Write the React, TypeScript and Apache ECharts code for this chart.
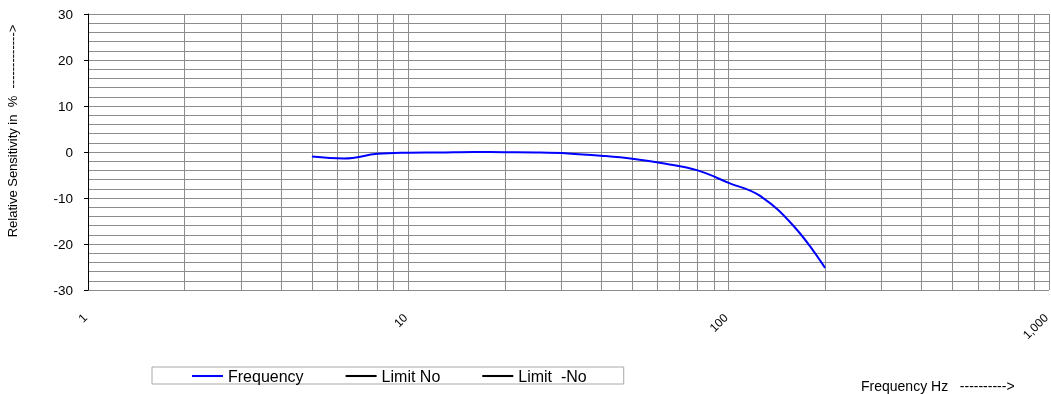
import React, { useEffect, useRef } from "react";
import * as echarts from "echarts";

const freqHz = [5, 6.3, 8, 10, 12.5, 16, 20, 25, 31.5, 40, 50, 63, 80, 100, 125, 160, 200];
const relSens = [-1.0, -1.4, -0.4, -0.15, -0.1, 0, -0.05, -0.1, -0.3, -0.8, -1.45, -2.5, -4.0, -6.7, -9.5, -16.2, -25.2];
const limitNo: number[][] = [];
const limitMinusNo: number[][] = [];
const minorGridFreqs = [2, 3, 4, 5, 6, 7, 8, 9, 20, 30, 40, 50, 60, 70, 80, 90, 200, 300, 400, 500, 600, 700, 800, 900];
const legendNames = ["Frequency", "Limit No", "Limit  -No"];
const yAxisTitle = "Relative Sensitivity in  %  ------------->";
const xAxisTitle = "Frequency Hz   ---------->";

const FONT = "'Liberation Sans', Arial, sans-serif";
const GRID = "#8c8c8c";

export default function App() {
  const ref = useRef<HTMLDivElement>(null);
  useEffect(() => {
    if (!ref.current) return;
    const chart = echarts.init(ref.current, null, { renderer: "svg" });
    chart.setOption({
      animation: false,
      textStyle: { fontFamily: FONT },
      grid: { left: 88, top: 14, right: 2, bottom: 104, containLabel: false, outerBoundsMode: "none" },
      legend: {
        left: 152,
        top: 367,
        padding: [1, 37, 0, 40],
        itemGap: 42,
        itemWidth: 31,
        itemHeight: 12,
        borderColor: "#a8a8a8",
        borderWidth: 1,
        icon: "path://M0,5 L30,5 L30,7 L0,7 Z",
        textStyle: { fontFamily: FONT, fontSize: 16, color: "#000" },
        data: legendNames,
      },
      xAxis: {
        type: "log",
        logBase: 10,
        min: 1,
        max: 1000,
        axisLine: { show: false },
        axisTick: { show: false },
        splitLine: { show: true, lineStyle: { color: GRID, width: 1 } },
        axisLabel: {
          rotate: 45,
          margin: 23,
          padding: [0, 4, 0, 0],
          fontSize: 12,
          fontFamily: FONT,
          color: "#000",
          formatter: (v: number) => Number(v).toLocaleString("en-US"),
        },
      },
      yAxis: {
        type: "value",
        min: -30,
        max: 30,
        interval: 10,
        axisLine: { show: true, lineStyle: { color: "#000", width: 1 } },
        axisTick: { show: true, length: 4, lineStyle: { color: "#000" } },
        minorTick: { show: false, splitNumber: 5 },
        splitLine: { show: true, lineStyle: { color: GRID, width: 1 } },
        minorSplitLine: { show: true, lineStyle: { color: GRID, width: 1 } },
        axisLabel: { margin: 15, fontSize: 13.5, fontFamily: FONT, color: "#000" },
      },
      graphic: [
        {
          type: "text",
          x: 12,
          y: 131,
          rotation: Math.PI / 2,
          style: {
            text: yAxisTitle,
            font: `13px ${FONT}`,
            fill: "#000",
            align: "center",
            verticalAlign: "middle",
          },
        },
        {
          type: "text",
          x: 861,
          y: 386,
          style: {
            text: xAxisTitle,
            font: `14px ${FONT}`,
            fill: "#000",
            align: "left",
            verticalAlign: "middle",
          },
        },
      ],
      series: [
        {
          name: legendNames[0],
          type: "line",
          data: freqHz.map((f, i) => [f, relSens[i]]),
          smooth: 0.4,
          showSymbol: false,
          symbol: "none",
          lineStyle: { color: "#0000ff", width: 2 },
          itemStyle: { color: "#0000ff" },
          z: 5,
          markLine: {
            silent: true,
            symbol: ["none", "none"],
            label: { show: false },
            lineStyle: { color: GRID, width: 1, type: "solid" },
            emphasis: { disabled: true },
            data: minorGridFreqs.map((f) => ({ xAxis: f })),
            z: 1,
          },
        },
        {
          name: legendNames[1],
          type: "line",
          data: limitNo,
          showSymbol: false,
          lineStyle: { color: "#000", width: 1.5 },
          itemStyle: { color: "#000" },
        },
        {
          name: legendNames[2],
          type: "line",
          data: limitMinusNo,
          showSymbol: false,
          lineStyle: { color: "#000", width: 1.5 },
          itemStyle: { color: "#000" },
        },
      ],
    });
    return () => chart.dispose();
  }, []);
  return <div ref={ref} style={{ position: "fixed", left: 0, top: 0, width: 1051, height: 394 }} />;
}
